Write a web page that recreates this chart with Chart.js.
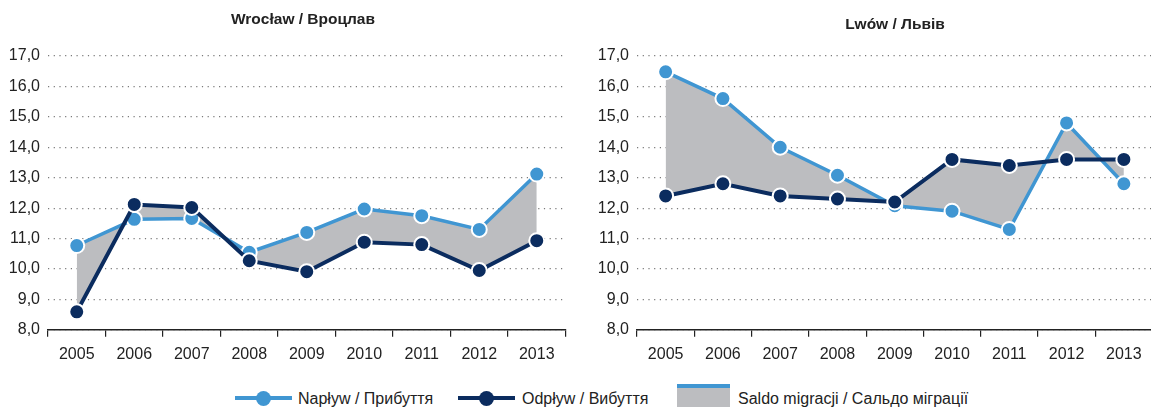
<!DOCTYPE html>
<html lang="pl">
<head>
<meta charset="UTF-8">
<title>Wrocław / Lwów – migracje</title>
<script src="https://cdn.jsdelivr.net/npm/chart.js"></script>
<style>
    body {
        margin: 0;
        width: 1151px;
        height: 407px;
        overflow: hidden;
        background: #fff;
        font-family: 'Liberation Sans Narrow', 'Arial Narrow', 'Liberation Sans', sans-serif;
        position: relative;
    }
    .chart-box { position: absolute; top: 0; height: 372px; }
    #box-left { left: 0; width: 575px; }
    #box-right { left: 589px; width: 573px; }
    .legend { position: absolute; top: 384px; left: 0; width: 1151px; height: 26px; font-size: 16px; color: #222; }
    .leg-item { position: absolute; top: 0; height: 26px; line-height: 30px; white-space: nowrap; }
    .leg-line { position: absolute; top: 12px; width: 57px; height: 4px; }
    .leg-dot { position: absolute; top: 7px; left: 21px; width: 15px; height: 15px; border-radius: 50%; }
    .leg-box { position: absolute; top: 0; width: 53px; height: 26px; background: #bcbdc0; border-top: 4px solid #4096d2; box-sizing: border-box; }
</style>
</head>
<body>
<div class="chart-box" id="box-left"><canvas id="wroclaw"></canvas></div>
<div class="chart-box" id="box-right"><canvas id="lwow"></canvas></div>

<div class="legend">
    <div class="leg-item" style="left:235px;">
        <span class="leg-line" style="left:0;background:#4096d2;"></span>
        <span class="leg-dot" style="background:#4096d2;"></span>
        <span style="position:absolute;left:63px;">Napływ / Прибуття</span>
    </div>
    <div class="leg-item" style="left:458px;">
        <span class="leg-line" style="left:0;background:#0b2c5f;"></span>
        <span class="leg-dot" style="background:#0b2c5f;"></span>
        <span style="position:absolute;left:64px;">Odpływ / Вибуття</span>
    </div>
    <div class="leg-item" style="left:677px;">
        <span class="leg-box" style="left:0;"></span>
        <span style="position:absolute;left:61px;">Saldo migracji / Сальдо міграції</span>
    </div>
</div>

<script>
    const years = ['2005', '2006', '2007', '2008', '2009', '2010', '2011', '2012', '2013'];

    const wroclawIn  = [10.77, 11.63, 11.66, 10.55, 11.2, 11.97, 11.75, 11.3, 13.12];
    const wroclawOut = [8.59, 12.12, 12.02, 10.27, 9.91, 10.88, 10.8, 9.95, 10.93];

    const lwowIn  = [16.48, 15.6, 14.0, 13.08, 12.08, 11.9, 11.3, 14.8, 12.8];
    const lwowOut = [12.4, 12.8, 12.4, 12.3, 12.2, 13.6, 13.4, 13.6, 13.6];

    const yTicks = [8, 9, 10, 11, 12, 13, 14, 15, 16, 17];

    const lightBlue = '#4096d2';
    const navy = '#0b2c5f';
    const saldoGrey = '#bcbdc0';
    const fontFamily = "'Liberation Sans Narrow', 'Arial Narrow', 'Liberation Sans', sans-serif";

    // simple title drawn at a fixed spot over the plot
    const titlePlugin = {
        id: 'cityTitle',
        afterDraw(chart, args, opts) {
            const ctx = chart.ctx;
            ctx.save();
            ctx.font = 'bold 15.5px "Liberation Sans", Arial, sans-serif';
            ctx.fillStyle = '#222';
            ctx.textAlign = 'center';
            ctx.textBaseline = 'middle';
            ctx.fillText(opts.text, opts.x, opts.y);
            ctx.restore();
        }
    };

    function makeChart(id, inData, outData, title) {
        const ctx = document.getElementById(id).getContext('2d');
        return new Chart(ctx, {
            type: 'line',
            data: {
                labels: years,
                datasets: [{
                    label: 'Napływ / Прибуття',
                    data: inData,
                    borderColor: lightBlue,
                    backgroundColor: saldoGrey,
                    borderWidth: 3.5,
                    pointRadius: 7.5,
                    pointBackgroundColor: lightBlue,
                    pointBorderColor: '#fff',
                    pointBorderWidth: 2,
                    tension: 0,
                    fill: { target: 1, above: saldoGrey, below: saldoGrey },
                    order: 1
                }, {
                    label: 'Odpływ / Вибуття',
                    data: outData,
                    borderColor: navy,
                    backgroundColor: navy,
                    borderWidth: 4,
                    pointRadius: 7.5,
                    pointBackgroundColor: navy,
                    pointBorderColor: '#fff',
                    pointBorderWidth: 2,
                    tension: 0,
                    fill: false,
                    order: 0
                }]
            },
            options: {
                responsive: true,
                maintainAspectRatio: false,
                animation: false,
                layout: {
                    padding: { top: 56, right: 6, bottom: 0, left: 0 }
                },
                plugins: {
                    legend: { display: false },
                    tooltip: { enabled: false },
                    filler: { drawTime: 'beforeDatasetsDraw' },
                    cityTitle: title
                },
                scales: {
                    x: {
                        offset: true,
                        grid: {
                            offset: true,
                            drawOnChartArea: false,
                            drawTicks: true,
                            tickLength: 7,
                            color: '#222',
                            lineWidth: 1.2
                        },
                        border: { display: true, color: '#222', width: 1.5 },
                        ticks: {
                            padding: 8,
                            color: '#222',
                            font: { family: fontFamily, size: 16 }
                        }
                    },
                    y: {
                        min: 8,
                        max: 17,
                        afterFit(scale) { scale.width = 48; },
                        afterBuildTicks(scale) { scale.ticks = yTicks.map(v => ({ value: v })); },
                        grid: {
                            drawTicks: false,
                            color: '#7a7a7a',
                            lineWidth: 1.2
                        },
                        border: { display: false, dash: [1.2, 4.5] },
                        ticks: {
                            padding: 8,
                            color: '#222',
                            font: { family: fontFamily, size: 16 },
                            callback: v => v.toFixed(1).replace('.', ',')
                        }
                    }
                }
            },
            plugins: [titlePlugin]
        });
    }

    makeChart('wroclaw', wroclawIn, wroclawOut, { text: 'Wrocław / Вроцлав', x: 303, y: 20 });
    makeChart('lwow', lwowIn, lwowOut, { text: 'Lwów / Львів', x: 306, y: 25 });
</script>
</body>
</html>
